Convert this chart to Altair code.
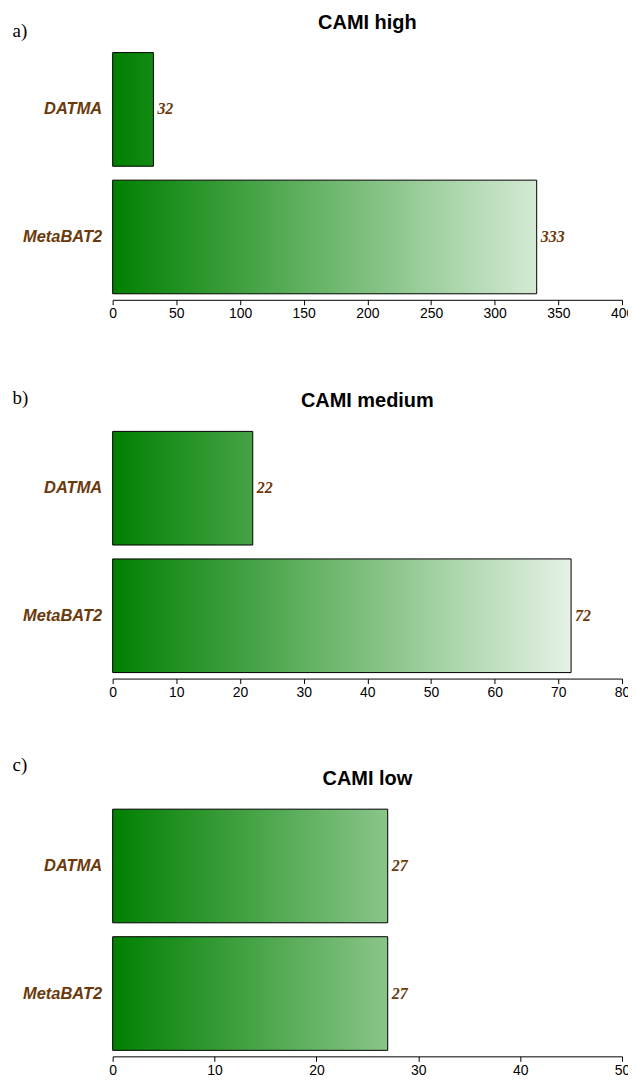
import altair as alt
import pandas as pd

methods = ["DATMA", "MetaBAT2"]
titles = ["CAMI high", "CAMI medium", "CAMI low"]
letters = ["a)", "b)", "c)"]
values_high = [32, 333]
values_medium = [22, 72]
values_low = [27, 27]
axis_max = [400, 80, 50]
axis_step = [50, 10, 10]

GREEN = (0, 128, 0)
BROWN = "#6b3a0c"


def end_color(frac):
    r = int(round(GREEN[0] + (255 - GREEN[0]) * frac))
    g = int(round(GREEN[1] + (255 - GREEN[1]) * frac))
    b = int(round(GREEN[2] + (255 - GREEN[2]) * frac))
    return "#%02x%02x%02x" % (r, g, b)


def panel(values, title, letter, xmax, step, letter_y, title_offset):
    df = pd.DataFrame({"method": methods, "value": values})
    xs = alt.X(
        "value:Q",
        scale=alt.Scale(domain=[0, xmax], nice=False),
        axis=alt.Axis(
            values=list(range(0, xmax + 1, step)),
            title=None,
            grid=False,
            domainColor="black",
            tickColor="black",
            tickSize=5,
            labelColor="black",
            labelFontSize=14,
            labelFont="Liberation Sans",
            labelFlush=False,
            labelPadding=2,
        ),
    )
    ys = alt.Y(
        "method:N",
        sort=methods,
        scale=alt.Scale(paddingInner=0.109, paddingOuter=0.047),
        axis=alt.Axis(
            title=letter,
            titleAngle=0,
            titleAlign="left",
            titleBaseline="middle",
            titleX=-101,
            titleY=letter_y,
            titleFont="Liberation Serif",
            titleFontSize=19,
            titleFontWeight="normal",
            titleColor="black",
            domain=False,
            ticks=False,
            labelFont="Liberation Sans",
            labelFontSize=16.5,
            labelFontWeight="bold",
            labelFontStyle="italic",
            labelColor=BROWN,
            labelPadding=11,
        ),
    )
    layers = []
    for m, v in zip(methods, values):
        grad = alt.LinearGradient(
            gradient="linear",
            x1=0, y1=0, x2=1, y2=0,
            stops=[
                alt.GradientStop(offset=0, color="#008000"),
                alt.GradientStop(offset=1, color=end_color(v / xmax)),
            ],
        )
        layers.append(
            alt.Chart(df)
            .transform_filter(alt.datum.method == m)
            .mark_bar(fill=grad, stroke="black", strokeWidth=1)
            .encode(x=xs, y=ys)
        )
    text = (
        alt.Chart(df)
        .mark_text(
            align="left",
            dx=4,
            font="Liberation Serif",
            fontSize=16,
            fontWeight="bold",
            fontStyle="italic",
            color=BROWN,
        )
        .encode(x=alt.X("value:Q"), y=alt.Y("method:N", sort=methods), text="value:Q")
    )
    return alt.layer(*layers, text).properties(
        width=511,
        height=254,
        title=alt.TitleParams(
            title,
            font="Liberation Sans",
            fontSize=20,
            fontWeight="bold",
            color="black",
            anchor="middle",
            frame="group",
            offset=title_offset,
        ),
    )


pa = panel(values_high, titles[0], letters[0], axis_max[0], axis_step[0], -16, -11.5)
pb = panel(values_medium, titles[1], letters[1], axis_max[1], axis_step[1], -28, -22.5)
pc = panel(values_low, titles[2], letters[2], axis_max[2], axis_step[2], -39, -33.5)

chart = alt.vconcat(
    alt.vconcat(pa, pb, spacing=68),
    pc,
    spacing=56,
).properties(
    padding={"top": 3, "left": 4, "right": -6, "bottom": 0}
).configure_view(stroke=None)

chart.save("out.html", embed_options={"renderer": "svg", "actions": False})
